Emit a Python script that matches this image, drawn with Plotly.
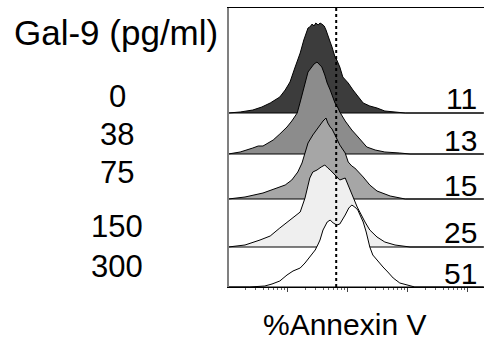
import plotly.graph_objects as go

# Gal-9 concentrations (pg/ml) and % Annexin V positive
doses = ["0", "38", "75", "150", "300"]
pct_annexin = ["11", "13", "15", "25", "51"]

# histogram traces: log10 fluorescence positions and relative counts
lx_0 = [0.02,0.22,0.43,0.58,0.72,0.88,0.97,1.05,1.13,1.22,1.28,1.32,1.35,1.38,1.42,1.45,1.48,1.52,1.55,1.58,1.62,1.65,1.68,1.72,1.75,1.80,1.83,1.88,1.93,2.02,2.10,2.18,2.27,2.38,2.50,2.63,2.80,2.97,4.28]
h_0 = [0,1,3,6,10,16,23,31,45,60,73,80,85,86,89,87,90,88,90,89,87,83,77,71,66,56,53,46,36,30,23,17,10,7,5,2,1,0,0]

lx_38 = [0.02,0.22,0.43,0.52,0.60,0.68,0.77,0.88,1.00,1.08,1.17,1.22,1.27,1.32,1.35,1.40,1.45,1.50,1.55,1.58,1.63,1.67,1.72,1.77,1.80,1.85,1.88,1.97,2.08,2.17,2.25,2.33,2.47,2.63,2.88,3.05,4.28]
h_38 = [0,2,6,8,8,11,14,20,27,33,41,52,64,76,82,86,90,92,89,87,79,71,64,56,51,46,42,33,24,18,12,7,4,2,1,0,0]

lx_75 = [0.02,0.30,0.60,0.80,0.97,1.08,1.18,1.25,1.30,1.35,1.43,1.48,1.52,1.57,1.60,1.65,1.68,1.72,1.75,1.80,1.85,1.88,1.97,2.02,2.08,2.13,2.27,2.38,2.50,2.72,2.97,4.28]
h_75 = [0,2,6,10,14,19,27,36,46,56,64,68,71,76,78,81,76,72,70,64,58,54,46,37,33,31,22,14,8,3,0,0]

lx_150 = [0.02,0.30,0.55,0.72,0.88,1.05,1.22,1.30,1.35,1.38,1.43,1.50,1.57,1.63,1.68,1.72,1.80,1.88,1.97,2.02,2.08,2.17,2.30,2.38,2.50,2.63,2.80,3.05,4.28]
h_150 = [0,2,7,11,19,27,35,49,60,69,75,77,80,82,79,77,72,67,69,62,52,40,25,17,10,5,2,0,0]

lx_300 = [0.02,0.38,0.63,0.75,0.88,1.00,1.10,1.22,1.30,1.38,1.47,1.52,1.55,1.60,1.67,1.72,1.77,1.83,1.88,1.97,2.03,2.08,2.13,2.18,2.27,2.32,2.38,2.43,2.52,2.60,2.68,2.77,2.88,3.00,3.13,4.28]
h_300 = [0,0,1,3,6,12,16,19,24,30,37,43,47,57,65,67,64,62,63,72,79,82,80,77,65,55,40,32,25,20,15,9,4,2,0,0]

# stacking offsets (bottom of each histogram lane)
offsets = [174, 133, 88, 40, 0]
fills = ["#3c3c3c", "#8c8c8c", "#a6a6a6", "#efefef", "#ffffff"]
gate_log = 1.82

series = [(lx_0, h_0), (lx_38, h_38), (lx_75, h_75), (lx_150, h_150), (lx_300, h_300)]

fig = go.Figure()
for (lx, h), off, col in zip(series, offsets, fills):
    xs = [10 ** v for v in lx]
    ys = [off + v for v in h]
    px = xs + [xs[-1], xs[0]]
    py = ys + [off, off]
    fig.add_trace(go.Scatter(x=px, y=py, mode="lines", fill="toself",
                             fillcolor=col, line=dict(color="black", width=1),
                             hoverinfo="skip", showlegend=False))

W, H = 484, 340
L, R, T, B = 229, 0, 8, 53
x0 = (L - 227) / 60
x1 = (W - 227) / 60

fig.add_shape(type="line", xref="x", yref="paper", x0=10 ** gate_log, x1=10 ** gate_log,
              y0=0, y1=1, line=dict(color="black", width=2, dash="dot"), layer="above")

minor_vals = []
for d in [1, 10, 100, 1000, 10000]:
    for m in range(2, 10):
        minor_vals.append(d * m)

fig.update_xaxes(type="log", range=[x0, x1], showgrid=False, zeroline=False,
                 showline=True, linecolor="black", linewidth=1, mirror=True,
                 ticks="outside", ticklen=4, tickcolor="#444", tickwidth=1,
                 tickvals=[1, 10, 100, 1000, 10000], showticklabels=False,
                 minor=dict(ticks="outside", ticklen=2, tickcolor="#666",
                            tickvals=minor_vals, showgrid=False))
fig.update_yaxes(range=[0, 279], showgrid=False, zeroline=False, showticklabels=False,
                 showline=True, linecolor="#808080", linewidth=2, ticks="")

FONT = "Liberation Sans, Arial, sans-serif"
def xp(px):
    return (px - L) / (W - L - R)
def yp(py):
    return (H - B - py) / (H - B - T)

ann = []
ann.append(dict(text="Gal-9 (pg/ml)", x=xp(116), y=yp(33), xref="paper", yref="paper",
                showarrow=False, xanchor="center", yanchor="middle",
                font=dict(family=FONT, size=35, color="black")))
label_y = [96, 134, 173, 226, 266]
for t, yy in zip(doses, label_y):
    ann.append(dict(text=t, x=xp(117), y=yp(yy), xref="paper", yref="paper",
                    showarrow=False, xanchor="center", yanchor="middle",
                    font=dict(family=FONT, size=31, color="black")))
pct_y = [99, 140, 185, 232, 273]
for t, yy in zip(pct_annexin, pct_y):
    ann.append(dict(text=t, x=xp(479), y=yp(yy), xref="paper", yref="paper",
                    showarrow=False, xanchor="right", yanchor="middle",
                    font=dict(family=FONT, size=30, color="black")))
ann.append(dict(text="%Annexin V", x=xp(344), y=yp(324), xref="paper", yref="paper",
                showarrow=False, xanchor="center", yanchor="middle",
                font=dict(family=FONT, size=30, color="black")))

fig.update_layout(width=W, height=H, margin=dict(l=L, r=R, t=T, b=B),
                  paper_bgcolor="white", plot_bgcolor="white",
                  annotations=ann, showlegend=False)

fig.write_html("out.html", config={"displayModeBar": False},
               post_script="document.body.style.margin='0';document.body.style.overflow='hidden';")
